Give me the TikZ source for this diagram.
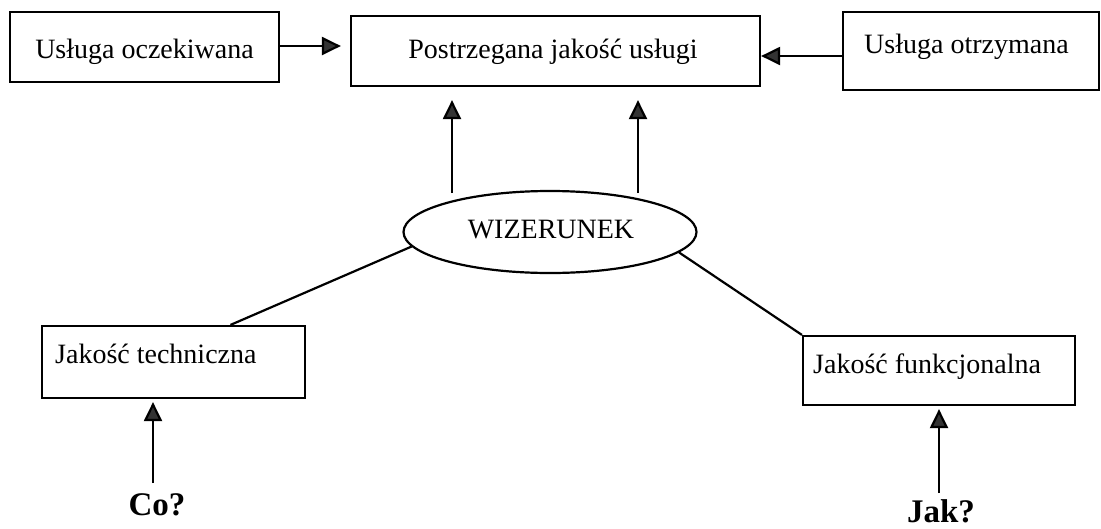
\documentclass[tikz,border=0pt]{standalone}
\usepackage{fontspec}
\setmainfont{Liberation Serif}
\usetikzlibrary{arrows.meta,shapes.geometric,calc}
\begin{document}
\begin{tikzpicture}[x=1pt,y=-1pt,
  every node/.style={font=\fontsize{28}{33}\selectfont},
  box/.style={draw,line width=2.2pt,inner sep=0pt},
  lbl/.style={anchor=base west,inner sep=0pt},
  big/.style={font=\fontsize{33}{38}\selectfont\bfseries,anchor=base,inner sep=0pt},
  arr/.style={line width=2.2pt,-{Triangle[length=19pt,width=18pt,fill=black!80]}},
  ln/.style={line width=2.2pt}]
\useasboundingbox (0,0) rectangle (1101,528);
% boxes
\node[box,minimum width=269pt,minimum height=70pt] (b1) at (144.5,47) {};
\node[lbl,anchor=base] at (144.5,58) {Usługa oczekiwana};
\node[box,minimum width=409pt,minimum height=70pt] (b2) at (555.5,51) {};
\node[lbl,anchor=base] at (553,58) {Postrzegana jakość usługi};
\node[box,minimum width=256pt,minimum height=78pt] (b3) at (971,51) {};
\node[lbl] at (864,53) {Usługa otrzymana};
\node[box,minimum width=263pt,minimum height=72pt] (jt) at (173.5,362) {};
\node[lbl] at (55,363) {Jakość techniczna};
\node[box,minimum width=272pt,minimum height=69pt] (jf) at (939,370.5) {};
\node[lbl] at (813,373) {Jakość funkcjonalna};
\node[draw,ellipse,line width=2.2pt,minimum width=293pt,minimum height=82pt,inner sep=0pt] (wiz) at (550,232) {};
\node[lbl,anchor=base] at (551,238) {WIZERUNEK};
\node[big] (co) at (157,515) {Co?};
\node[big] (jak) at (941,522) {Jak?};
% coordinates
\coordinate (s1) at (452,193);
\coordinate (s2) at (638,193);
\coordinate (c1) at (153,483);
\coordinate (c2) at (939,493);
% connectors
\draw[arr,shorten >=9pt] ([yshift=1pt]b1.east) -- ([yshift=1pt]b1.east -| b2.west);
\draw[arr] ([yshift=-5pt]b3.west) -- ([yshift=-5pt]b3.west -| b2.east);
\draw[arr,shorten >=13pt] (s1) -- (s1 |- b2.south);
\draw[arr,shorten >=13pt] (s2) -- (s2 |- b2.south);
\draw[ln] (wiz.186) -- ($(jt.north west)!0.715!(jt.north east)$);
\draw[ln] (wiz.351) -- (jf.north west);
\draw[arr,shorten >=3pt] (c1) -- (c1 |- jt.south);
\draw[arr,shorten >=3pt] (c2) -- (c2 |- jf.south);
\end{tikzpicture}
\end{document}
